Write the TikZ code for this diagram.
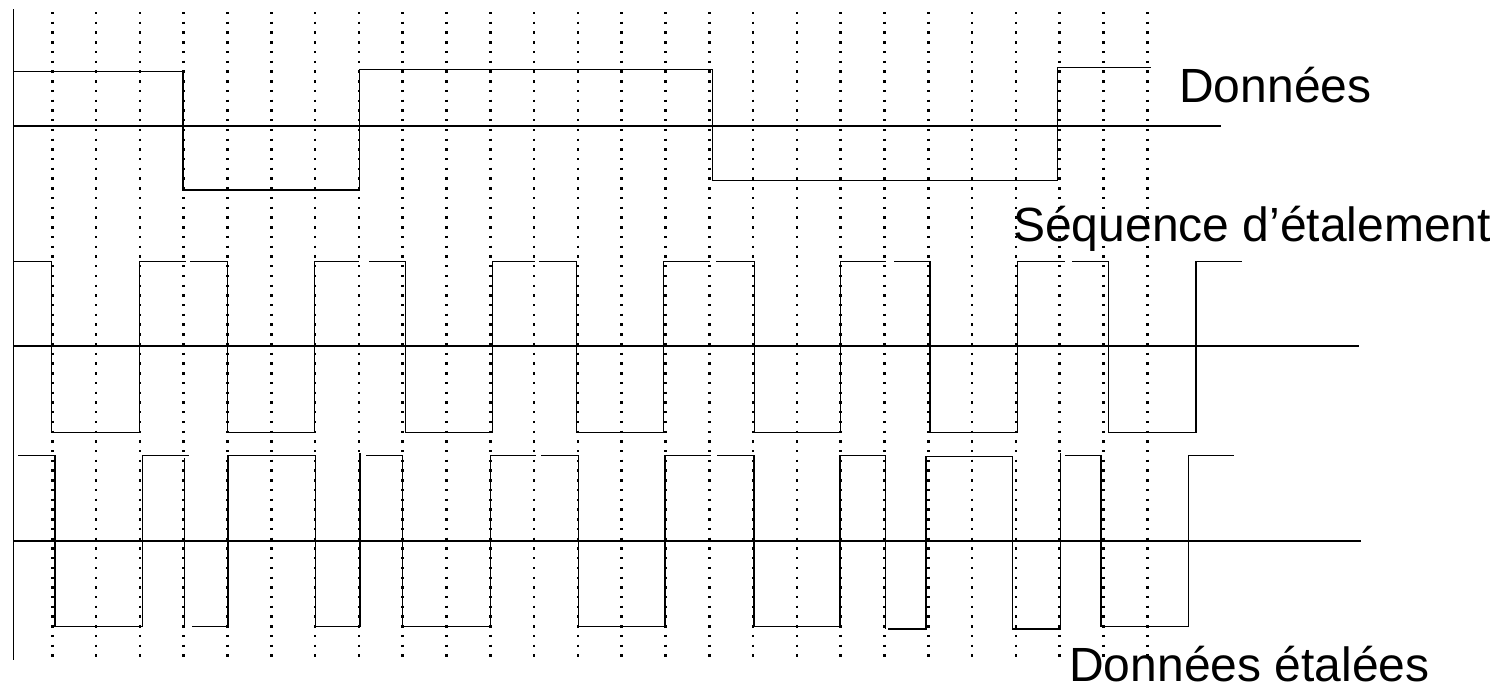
\documentclass[tikz,border=0pt]{standalone}
\usepackage{fontspec}
\setmainfont{Liberation Sans}
\begin{document}
\begin{tikzpicture}[x=0.75pt,y=-0.75pt,
  wave/.style={line width=1.15pt, line join=miter, line cap=rect},
  axisline/.style={line width=1.2pt},
  gridline/.style={line width=1.9pt, dash pattern=on 1.8pt off 5.5pt},
  lbl/.style={anchor=base west, inner sep=0pt, font=\fontsize{36pt}{40pt}\selectfont}]
\useasboundingbox (0,0) rectangle (1501,690);
% dotted chip grid
\foreach \k in {0,...,25}
  \draw[gridline] ({52.3+43.8*\k},12) -- ({52.3+43.8*\k},660);
% vertical axis
\draw[axisline] (13.3,9) -- (13.3,660);
% zero lines
\draw[wave] (13.3,126) -- (1220,126);
\draw[wave] (13.3,346) -- (1358,346);
\draw[wave] (13.3,541) -- (1360,541);
% Donnees
\draw[wave] (13.3,71.7) -- (183,71.7) -- (183,190) -- (359.3,190) -- (359.3,69.7)
  -- (712.3,69.7) -- (712.3,180.7) -- (1057.3,180.7) -- (1057.3,67.7) -- (1150,67.7);
% Sequence d'etalement
\draw[wave] (15,261.7) -- (51.7,261.7) -- (51.7,432.7) -- (139.3,432.7) -- (139.3,261.7) -- (185,261.7);
\draw[wave] (191,261.7) -- (227.3,261.7) -- (227.3,432.7) -- (314.3,432.7) -- (314.3,261.7) -- (358.5,261.7);
\draw[wave] (370,261.7) -- (405.7,261.7) -- (405.7,432.7) -- (492.7,432.7) -- (492.7,261.7) -- (534.5,261.7);
\draw[wave] (539.5,261.7) -- (576.7,261.7) -- (576.7,432.7) -- (663.3,432.7) -- (663.3,261.7) -- (709,261.7);
\draw[wave] (717,261.7) -- (754.3,261.7) -- (754.3,432.7) -- (840.7,432.7) -- (840.7,261.7) -- (885.7,261.7);
\draw[wave] (894.3,261.7) -- (930,261.7) -- (930,432.7) -- (1017.7,432.7) -- (1017.7,261.7) -- (1064,261.7);
\draw[wave] (1072.7,261.7) -- (1108.3,261.7) -- (1108.3,432.7) -- (1196,432.7) -- (1196,261.7) -- (1241.7,261.7);
% Donnees etalees
\draw[wave] (18.3,455.3) -- (55,455.3) -- (55,626.7) -- (142.7,626.7) -- (142.7,455.3) -- (188.3,455.3);
\draw[wave] (184.3,459) -- (184.3,625.7);
\draw[wave] (192.3,626.7) -- (228,626.7) -- (228,455.3) -- (315.7,455.3) -- (315.7,626.7) -- (359.8,626.7) -- (359.8,453.3);
\draw[wave] (366.7,455.3) -- (402.3,455.3) -- (402.3,626.7) -- (490.7,626.7) -- (490.7,455.3) -- (535,455.3);
\draw[wave] (541.7,455.3) -- (578.3,455.3) -- (578.3,626.7) -- (665,626.7) -- (665,455.3) -- (710.7,455.3);
\draw[wave] (717.3,455.3) -- (754,455.3) -- (754,626.7) -- (840,626.7) -- (840,455.3) -- (885.7,455.3) -- (885.7,628.3);
\draw[wave] (888.3,629) -- (926,629) -- (926,456.7) -- (1012.7,456.7) -- (1012.7,629) -- (1060.7,629) -- (1060.7,454);
\draw[wave] (1065.7,455.3) -- (1101,455.3) -- (1101,626.7) -- (1188.3,626.7) -- (1188.3,455.3) -- (1233.3,455.3);
% labels
\node[lbl] (donnees) at (1179,102.3) {Données};
\node[lbl] (sequence) at (1013,241.7) {Séquence d’étalement};
\node[lbl] (etalees) at (1069,681.5) {Données étalées};
\end{tikzpicture}
\end{document}
